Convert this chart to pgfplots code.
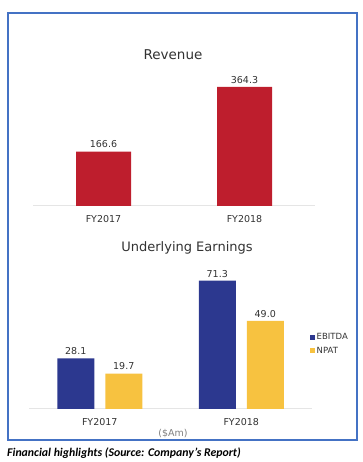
\documentclass[border=0pt]{standalone}
\usepackage{pgfplots}
\pgfplotsset{compat=1.18}
\usepackage{fontspec}
\setmainfont{DejaVu Sans}
\newfontfamily\capfont{Carlito}
\definecolor{revred}{RGB}{190,30,45}
\definecolor{ebblue}{RGB}{44,56,143}
\definecolor{npyel}{RGB}{247,194,64}
\definecolor{framec}{RGB}{68,114,196}
\definecolor{txt}{RGB}{50,50,50}
\begin{document}
\begin{tikzpicture}[x=1pt,y=1pt]
\path[use as bounding box] (0,0) rectangle (363,462);
\draw[framec, line width=1.5pt] (8,22) rectangle (357,449);
\begin{axis}[at={(33pt,256pt)}, anchor=south west, scale only axis,
  width=282pt, height=150pt, ymin=0, ymax=459, xmin=-0.5, xmax=1.5,
  hide y axis, axis x line*=bottom,
  x axis line style={-, draw=black!10, line width=1pt},
  xtick={0,1}, xticklabels={FY2017,FY2018}, major tick length=0pt,
  xticklabel style={font=\fontsize{9.5}{11}\selectfont, text=txt, yshift=-5.5pt},
  ybar, bar width=55pt, clip=false,
  nodes near coords={\pgfmathprintnumber[fixed,fixed zerofill,precision=1,assume math mode=true]{\pgfplotspointmeta}},
  nodes near coords style={font=\fontsize{9.5}{11}\selectfont, text=txt}]
\addplot[fill=revred, draw=none, bar shift=0pt] coordinates {(0,166.6) (1,364.3)};
\end{axis}
\node[font=\fontsize{13.5}{16}\selectfont, text=txt] at (173,407) {Revenue};
\begin{axis}[at={(29pt,53pt)}, anchor=south west, scale only axis,
  width=283pt, height=160pt, ymin=0, ymax=88.9, xmin=-0.5, xmax=1.5,
  hide y axis, axis x line*=bottom,
  x axis line style={-, draw=black!10, line width=1pt},
  xtick={0,1}, xticklabels={FY2017,FY2018}, major tick length=0pt,
  xticklabel style={font=\fontsize{9.5}{11}\selectfont, text=txt, yshift=-5.5pt},
  ybar, bar width=37pt, clip=false,
  nodes near coords={\pgfmathprintnumber[fixed,fixed zerofill,precision=1,assume math mode=true]{\pgfplotspointmeta}},
  nodes near coords style={font=\fontsize{9.5}{11}\selectfont, text=txt},
  legend style={at={(0.993,0.406)}, anchor=west, draw=none, fill=none,
    font=\fontsize{8.5}{10}\selectfont, text=txt, row sep=3pt, inner sep=0pt,
    nodes={inner sep=1.5pt}},
  legend cell align=left,
  legend image code/.code={\fill[#1] (0pt,-2.5pt) rectangle (5pt,2.5pt);}]
\addplot[fill=ebblue, draw=none, bar shift=-24pt] coordinates {(0,28.1) (1,71.3)};
\addplot[fill=npyel, draw=none, bar shift=24pt] coordinates {(0,19.7) (1,49.0)};
\legend{EBITDA,NPAT}
\end{axis}
\node[font=\fontsize{13}{16}\selectfont, text=txt] at (187,214) {Underlying Earnings};
\node[font=\fontsize{9.5}{11}\selectfont, text=black!50] at (173,28) {(\$Am)};
\node[anchor=base west, inner sep=0pt, font=\capfont\fontsize{11.8}{14}\selectfont\bfseries\itshape] at (7,5.3) {Financial highlights (Source: Company’s Report)};
\end{tikzpicture}
\end{document}
